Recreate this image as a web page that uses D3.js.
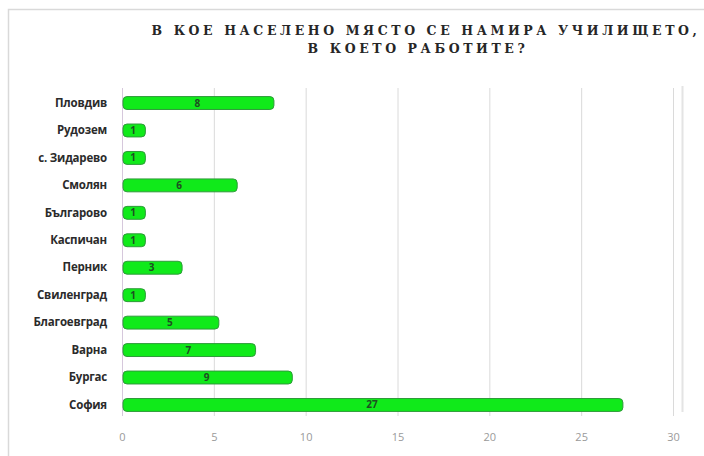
<!DOCTYPE html>
<html><head><meta charset="utf-8">
<script src="https://cdn.jsdelivr.net/npm/d3@7"></script>
<style>body{margin:0;background:#fff}svg{display:block}</style>
</head><body>
<svg id="c" width="704" height="456"></svg>
<script>
const titleLines = ["В КОЕ НАСЕЛЕНО МЯСТО СЕ НАМИРА УЧИЛИЩЕТО,", "В КОЕТО РАБОТИТЕ?"];
const categories = ["Пловдив","Рудозем","с. Зидарево","Смолян","Българово","Каспичан","Перник","Свиленград","Благоевград","Варна","Бургас","София"];
const values = [8,1,1,6,1,1,3,1,5,7,9,27];
const xTicks = [0,5,10,15,20,25,30];

const svg = d3.select("#c");
svg.append("rect").attr("x",8.5).attr("y",9.5).attr("width",705).attr("height",460)
  .attr("fill","#fff").attr("stroke","#d9d9d9").attr("stroke-width",1.5);

const x = d3.scaleLinear().domain([0,30]).range([122,673]);
const y = d3.scaleBand().domain(categories).range([89.3,418.7]).paddingInner(0.53).paddingOuter(0.265);

// gridlines
svg.append("g").selectAll("line").data(xTicks).join("line")
  .attr("x1",d=>x(d)+0.5).attr("x2",d=>x(d)+0.5).attr("y1",88).attr("y2",416)
  .attr("stroke",(d,i)=> i===0 ? "#d6c8dc" : "#dadada").attr("stroke-width",1);
// right wall
svg.append("line").attr("x1",682.5).attr("x2",682.5).attr("y1",86).attr("y2",412)
  .attr("stroke","#e4e4e4").attr("stroke-width",2);

// x axis labels
const xAxis = d3.axisBottom(x).tickValues(xTicks).tickSize(0).tickPadding(0);
const gx = svg.append("g").attr("transform","translate(0,433)").call(xAxis);
gx.select(".domain").remove();
gx.selectAll("text").attr("fill","#9a9a9a").attr("font-family","'Open Sans', sans-serif").attr("font-size",11);

// y axis labels
const yAxis = d3.axisLeft(y).tickSize(0).tickPadding(0);
const gy = svg.append("g").attr("transform","translate(107,0)").call(yAxis);
gy.select(".domain").remove();
gy.selectAll("text").attr("fill","#2b2b2b").attr("font-family","'Open Sans', sans-serif")
  .attr("font-weight","bold").attr("font-size",11.5).attr("letter-spacing",-0.2);

// bars
const bars = svg.append("g");
bars.selectAll("rect").data(values).join("rect")
  .attr("x",x(0)+1).attr("y",(d,i)=>y(categories[i]))
  .attr("width",d=>x(d)-x(0)+4).attr("height",y.bandwidth())
  .attr("rx",4).attr("ry",4)
  .attr("fill","#10ea1a").attr("stroke","#2f9a3a").attr("stroke-width",1);
// value labels
svg.append("g").selectAll("text").data(values).join("text")
  .attr("x",d=>x(d/2)+2).attr("y",(d,i)=>y(categories[i])+y.bandwidth()/2+3.5)
  .attr("text-anchor","middle").attr("font-family","'Open Sans', sans-serif")
  .attr("font-weight","bold").attr("font-size",10).attr("fill","#1f4d22")
  .text(d=>d);

// title
svg.append("g").selectAll("text").data(titleLines).join("text")
  .attr("x",(d,i)=> i===0 ? 426 : 418).attr("y",(d,i)=>35+i*18).attr("text-anchor","middle")
  .attr("font-family","'DejaVu Serif', 'Liberation Serif', serif").attr("font-weight","bold")
  .attr("font-size",12.5).attr("letter-spacing",3.6).attr("fill","#262626")
  .text(d=>d);
</script>
</body></html>
